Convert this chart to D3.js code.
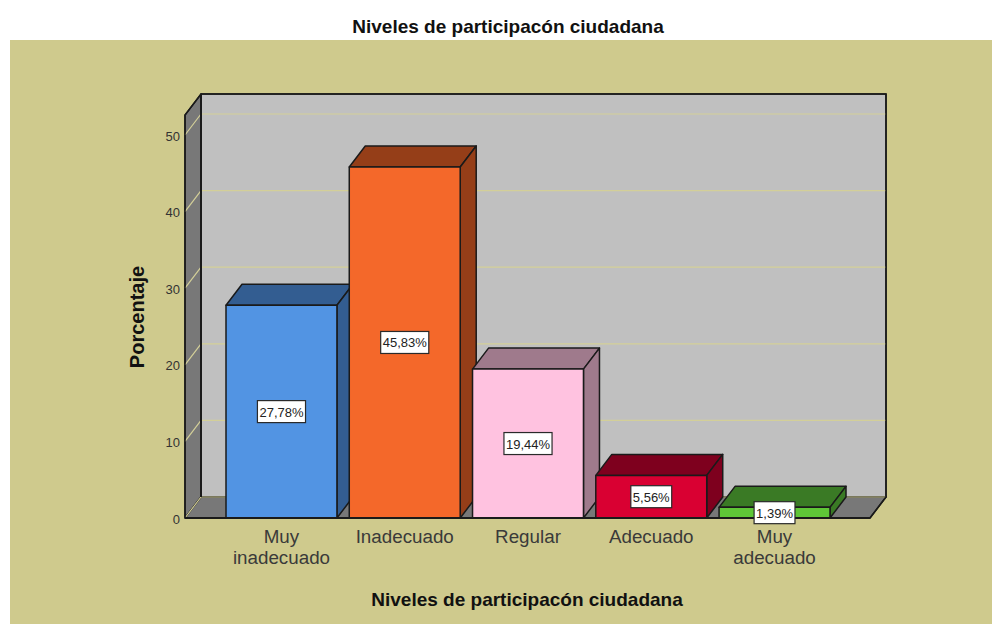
<!DOCTYPE html>
<html>
<head>
<meta charset="utf-8">
<script src="https://cdn.jsdelivr.net/npm/d3@7"></script>
<style>
  html, body { margin: 0; padding: 0; background: #fff; }
  svg { display: block; font-family: "Liberation Sans", Arial, sans-serif; }
</style>
</head>
<body>
<svg></svg>
<script>
// Chart data
const categories = ["Muy inadecuado", "Inadecuado", "Regular", "Adecuado", "Muy adecuado"];
const values = [27.78, 45.83, 19.44, 5.56, 1.39];
const yTicks = [0, 10, 20, 30, 40, 50];
const frontColors = ["#5294e3", "#f4682a", "#ffc2e0", "#d90032", "#5fc637"];
const sideColors = ["#335d91", "#953e18", "#9f7a8c", "#7e001e", "#3a7a25"];

const width = 992, height = 624;
const svg = d3.select("svg").attr("width", width).attr("height", height);

// 3D depth offset of the box
const dx = 16, dy = -21;
const ink = "#1a1a1a", gridColor = "#d3cf98";

const x = d3.scaleBand().domain(categories).range([226, 830]).paddingInner(0.1).paddingOuter(0);
const y = d3.scaleLinear().domain([0, 50]).range([518, 135]);
const left = 185, right = 870, floorY = y(0), wallTop = y(52.6);

const poly = (pts, fill, stroke = ink, sw = 1.5) => svg.append("polygon")
    .attr("points", pts.map(p => p.join(",")).join(" "))
    .attr("fill", fill)
    .attr("stroke", stroke)
    .attr("stroke-width", sw)
    .attr("stroke-linejoin", "round");

// Background panel
svg.append("rect").attr("x", 10).attr("y", 40).attr("width", width - 10).attr("height", height - 40).attr("fill", "#cfca8d");

// Back wall, side wall and floor
poly([[left + dx, wallTop + dy], [right + dx, wallTop + dy], [right + dx, floorY + dy], [left + dx, floorY + dy]], "#c0c0c0");
poly([[left, wallTop], [left + dx, wallTop + dy], [left + dx, floorY + dy], [left, floorY]], "#787878");
poly([[left, floorY], [left + dx, floorY + dy], [right + dx, floorY + dy], [right, floorY]], "#787878");

// Gridlines on the walls
const grid = svg.append("g").attr("fill", "none").attr("stroke", gridColor).attr("stroke-width", 1.2);
yTicks.forEach(t => {
    grid.append("path").attr("d", d3.line()([[left, y(t)], [left + dx, y(t) + dy], [right + dx, y(t) + dy]]));
});

// Redraw the outer edges over the gridlines
svg.append("path")
    .attr("d", d3.line()([[left, floorY], [left, wallTop], [left + dx, wallTop + dy], [right + dx, wallTop + dy], [right + dx, floorY + dy], [right, floorY], [left, floorY]]))
    .attr("fill", "none").attr("stroke", ink).attr("stroke-width", 1.5);
svg.append("path")
    .attr("d", d3.line()([[left + dx, wallTop + dy], [left + dx, floorY + dy]]))
    .attr("fill", "none").attr("stroke", ink).attr("stroke-width", 2);

// Bars, left to right so each one covers the previous side face
categories.forEach((c, i) => {
    const x0 = x(c), x1 = x0 + x.bandwidth(), top = y(values[i]);
    poly([[x0, top], [x0 + dx, top + dy], [x1 + dx, top + dy], [x1, top]], sideColors[i]);
    poly([[x1, top], [x1 + dx, top + dy], [x1 + dx, floorY + dy], [x1, floorY]], sideColors[i]);
    poly([[x0, top], [x1, top], [x1, floorY], [x0, floorY]], frontColors[i]);
});

// Baseline
svg.append("line").attr("x1", left).attr("x2", right).attr("y1", floorY).attr("y2", floorY)
    .attr("stroke", ink).attr("stroke-width", 2);

// Y axis labels
const yAxis = svg.append("g")
    .attr("transform", `translate(${left - 1},1)`)
    .call(d3.axisLeft(y).tickValues(yTicks).tickSize(0).tickPadding(4));
yAxis.select(".domain").remove();
yAxis.selectAll("text").attr("font-size", 13).attr("font-family", "inherit").attr("fill", "#333");

// Category labels, wrapped on two lines
categories.forEach(c => {
    const label = svg.append("text")
        .attr("text-anchor", "middle")
        .attr("font-size", 18.8)
        .attr("fill", "#3a3a3a")
        .attr("x", x(c) + x.bandwidth() / 2)
        .attr("y", 543);
    c.split(" ").forEach((word, j) => {
        label.append("tspan").attr("x", x(c) + x.bandwidth() / 2).attr("dy", j ? 21 : 0).text(word);
    });
});

// Value labels in white boxes sized to their text
categories.forEach((c, i) => {
    const cx = x(c) + x.bandwidth() / 2, cy = (y(values[i]) + floorY) / 2;
    const box = svg.append("rect").attr("fill", "#fff").attr("stroke", "#2a2a2a").attr("stroke-width", 1.2);
    const label = svg.append("text").attr("x", cx).attr("y", cy + 5).attr("text-anchor", "middle")
        .attr("font-size", 13).attr("fill", "#222")
        .text(values[i].toFixed(2).replace(".", ",") + "%");
    const w = label.node().getComputedTextLength() + 4;
    box.attr("x", cx - w / 2).attr("y", cy - 11).attr("width", w).attr("height", 22);
});

// Titles
svg.append("text").attr("x", 508).attr("y", 33).attr("text-anchor", "middle")
    .attr("font-size", 19).attr("font-weight", "bold").attr("fill", "#111")
    .text("Niveles de participacón ciudadana");
svg.append("text").attr("x", 527).attr("y", 606).attr("text-anchor", "middle")
    .attr("font-size", 19).attr("font-weight", "bold").attr("fill", "#111")
    .text("Niveles de participacón ciudadana");
svg.append("text").attr("transform", "translate(144,317) rotate(-90)").attr("text-anchor", "middle")
    .attr("font-size", 20).attr("font-weight", "bold").attr("fill", "#111")
    .text("Porcentaje");
</script>
</body>
</html>
